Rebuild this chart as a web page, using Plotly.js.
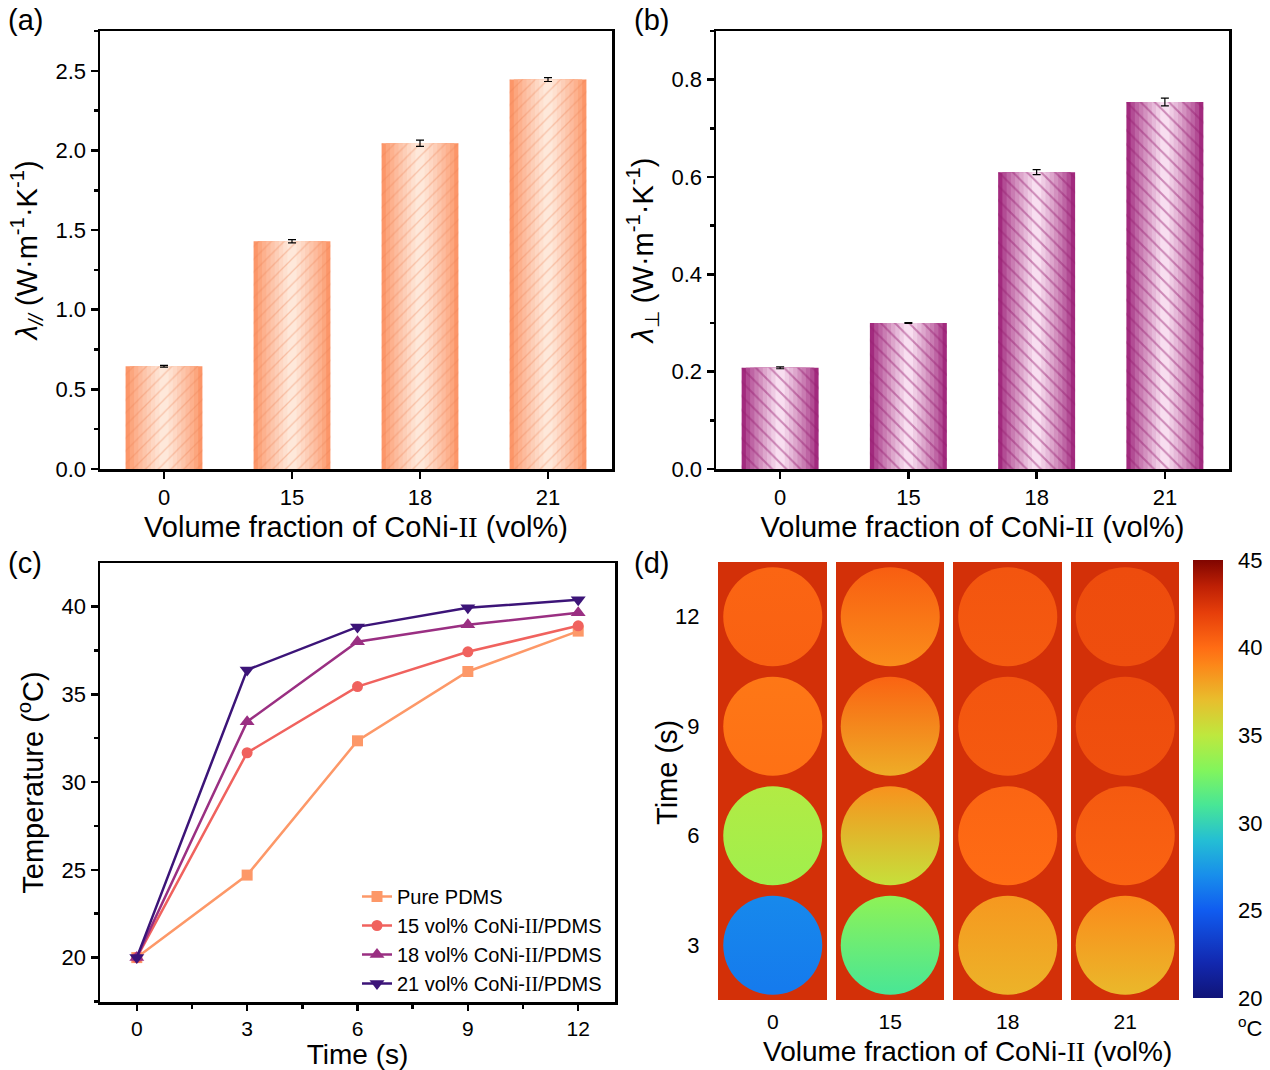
<!DOCTYPE html>
<html>
<head>
<meta charset="utf-8">
<script src="https://cdn.plot.ly/plotly-3.0.1.min.js"></script>
<style>html,body{margin:0;padding:0;background:#fff;}#plot{width:1270px;height:1070px;}</style>
</head>
<body>
<div id="plot"></div>
<script>
// ---------- DATA ----------
const categories = ['0', '15', '18', '21'];
const lambdaPar = [0.645, 1.43, 2.045, 2.445];
const lambdaParErr = [0.005, 0.01, 0.02, 0.012];
const lambdaPerp = [0.208, 0.300, 0.610, 0.754];
const lambdaPerpErr = [0.002, 0.001, 0.005, 0.008];

const timeS = [0, 3, 6, 9, 12];
const tempPure = [20, 24.7, 32.35, 36.3, 38.6];
const temp15 = [20, 31.67, 35.44, 37.42, 38.9];
const temp18 = [20, 33.44, 37.99, 38.96, 39.64];
const temp21 = [20, 36.39, 38.84, 39.93, 40.38];
const seriesNames = ['Pure PDMS', '15 vol% CoNi-II/PDMS', '18 vol% CoNi-II/PDMS', '21 vol% CoNi-II/PDMS'];

// thermal image panel: rows are time (s), columns are volume fractions
const imageTimes = ['3', '6', '9', '12'];
const imageBackground = [ // surrounding temperature
  [42.7, 42.7, 42.7, 42.7],
  [42.7, 42.7, 42.7, 42.7],
  [42.7, 42.7, 42.7, 42.7],
  [42.7, 42.7, 42.7, 42.7]
];
const sampleTopTemp = [
  [26.8, 33.4, 38.4, 38.9],
  [34.6, 38.6, 40.3, 40.8],
  [39.6, 40.4, 41.0, 41.4],
  [40.3, 40.6, 41.0, 41.4]
];
const sampleBottomTemp = [
  [26.2, 31.0, 37.4, 37.2],
  [34.0, 35.4, 40.0, 40.4],
  [39.8, 37.6, 40.8, 41.2],
  [40.5, 38.8, 40.8, 41.3]
];
const colorTicks = [20, 25, 30, 35, 40, 45];

// ---------- STYLE HELPERS ----------
const FONT = 'Liberation Sans, Arial, sans-serif';
const II = '<span style="font-family:Liberation Serif, Times New Roman, serif">II</span>';
const thermalScale = [
  [0.00, 'rgb(16,20,120)'],
  [0.08, 'rgb(18,40,175)'],
  [0.20, 'rgb(16,92,240)'],
  [0.28, 'rgb(24,142,235)'],
  [0.36, 'rgb(36,190,212)'],
  [0.44, 'rgb(72,230,150)'],
  [0.52, 'rgb(130,245,92)'],
  [0.60, 'rgb(190,232,62)'],
  [0.68, 'rgb(232,190,45)'],
  [0.76, 'rgb(252,135,25)'],
  [0.80, 'rgb(255,108,20)'],
  [0.88, 'rgb(230,62,10)'],
  [0.94, 'rgb(190,32,5)'],
  [1.00, 'rgb(128,5,0)']
];
const CMIN = 20, CMAX = 45;
function parseRGB(s) { return s.match(/\d+/g).map(Number); }
function scaleColor(T) {
  const t = Math.max(0, Math.min(1, (T - CMIN) / (CMAX - CMIN)));
  for (let i = 1; i < thermalScale.length; i++) {
    if (t <= thermalScale[i][0]) {
      const [t0, c0] = thermalScale[i - 1], [t1, c1] = thermalScale[i];
      const f = (t - t0) / (t1 - t0);
      const a = parseRGB(c0), b = parseRGB(c1);
      return 'rgb(' + a.map((v, k) => Math.round(v + (b[k] - v) * f)).join(',') + ')';
    }
  }
  return thermalScale[thermalScale.length - 1][1];
}
function mix(a, b, f) {
  return 'rgb(' + a.map((v, k) => Math.round(v + (b[k] - v) * f)).join(',') + ')';
}

const traces = [];
// gradient bars built from overlaid layers
function gradientBars(values, errs, xa, ya, edge, center, patShape, patColor, patSize, patSol) {
  const n = 9;
  for (let i = 0; i < n; i++) {
    const f = i / (n - 1);
    const w = 0.6 * (1 - 0.88 * f);
    traces.push({
      type: 'bar', x: categories, y: values, xaxis: xa, yaxis: ya,
      width: w, marker: {color: mix(edge, center, Math.pow(f, 0.8)), line: {width: 0}},
      showlegend: false, hoverinfo: 'skip'
    });
  }
  traces.push({
    type: 'bar', x: categories, y: values, xaxis: xa, yaxis: ya, width: 0.6,
    marker: {color: 'rgba(0,0,0,0)', line: {width: 0},
      pattern: {shape: patShape, fgcolor: patColor, bgcolor: 'rgba(0,0,0,0)', size: patSize, solidity: patSol, fillmode: 'overlay'}},
    error_y: {type: 'data', array: errs, visible: true, color: '#000', thickness: 1.2, width: 4},
    showlegend: false, hoverinfo: 'skip'
  });
}
gradientBars(lambdaPar, lambdaParErr, 'x', 'y', [252, 150, 105], [254, 232, 218], '/', 'rgba(236,130,85,0.75)', 9, 0.14);
gradientBars(lambdaPerp, lambdaPerpErr, 'x2', 'y2', [162, 42, 126], [248, 222, 240], '\\', 'rgba(150,30,112,0.9)', 10, 0.2);

// panel (c)
const lineColors = ['rgb(253,152,104)', 'rgb(240,98,94)', 'rgb(154,47,130)', 'rgb(60,20,120)'];
const symbols = ['square', 'circle', 'triangle-up', 'triangle-down'];
const temps = [tempPure, temp15, temp18, temp21];
temps.forEach((ys, i) => {
  traces.push({
    type: 'scatter', mode: 'lines+markers', x: timeS, y: ys, xaxis: 'x3', yaxis: 'y3',
    name: seriesNames[i].replace('II', II), legendgroup: 'g' + i,
    line: {color: lineColors[i], width: 2.5},
    marker: {symbol: symbols[i], size: i >= 2 ? 13 : 11, color: lineColors[i]},
    hoverinfo: 'skip'
  });
});

// panel (d)
traces.push({
  type: 'heatmap', x: categories, y: imageTimes, z: imageBackground, xaxis: 'x4', yaxis: 'y4',
  colorscale: thermalScale, zmin: CMIN, zmax: CMAX, xgap: 9, ygap: 0,
  showscale: true, hoverinfo: 'skip',
  colorbar: {
    x: 1193 / 1270, xanchor: 'left', y: 1 - 779 / 1070, yanchor: 'middle',
    len: 438, lenmode: 'pixels', thickness: 30, thicknessmode: 'pixels',
    outlinewidth: 0, xpad: 0, ypad: 0, tickvals: colorTicks,
    ticks: 'outside', ticklen: 11, tickcolor: 'rgba(0,0,0,0)',
    tickfont: {family: FONT, size: 22, color: '#000'}
  }
});
const sx = [], sy = [], sc = [], sg = [];
imageTimes.forEach((t, r) => {
  categories.forEach((c, k) => {
    sx.push(c); sy.push(t);
    sc.push(sampleTopTemp[r][k]);
    sg.push(scaleColor(sampleBottomTemp[r][k]));
  });
});
traces.push({
  type: 'scatter', mode: 'markers', x: sx, y: sy, xaxis: 'x4', yaxis: 'y4',
  marker: {size: 99, color: sc, colorscale: thermalScale, cmin: CMIN, cmax: CMAX, showscale: false,
    line: {width: 0}, gradient: {type: 'vertical', color: sg}},
  showlegend: false, hoverinfo: 'skip'
});

// ---------- LAYOUT ----------
const W = 1270, H = 1070;
const px = (a, b) => [a / W, b / W];
const py = (top, bottom) => [1 - bottom / H, 1 - top / H];
const tickFont = {family: FONT, size: 22, color: '#000'};
const titleFont = {family: FONT, size: 29, color: '#000'};
const lowTitleFont = {family: FONT, size: 28, color: '#000'};
function frameAxis(extra) {
  return Object.assign({
    showline: true, linewidth: 2.5, linecolor: '#000', mirror: true,
    ticks: 'outside', ticklen: 7, tickwidth: 2.5, tickcolor: '#000',
    tickfont: tickFont, showgrid: false, zeroline: false, fixedrange: true
  }, extra);
}
const xTitle = '<span>Volume fraction of CoNi-' + II + ' (vol%)</span>';

const layout = {
  width: W, height: H, margin: {l: 0, r: 0, t: 0, b: 0},
  paper_bgcolor: '#fff', plot_bgcolor: 'rgba(0,0,0,0)',
  barmode: 'overlay', showlegend: true,
  font: {family: FONT, color: '#000'},
  xaxis: frameAxis({domain: px(100, 612), anchor: 'y', type: 'category', range: [-0.5, 3.5],
    title: {text: xTitle, font: titleFont, standoff: 8}}),
  yaxis: frameAxis({domain: py(31, 469), anchor: 'x', range: [0, 2.75], dtick: 0.5, tickformat: '.1f',
    minor: {dtick: 0.25, ticks: 'outside', ticklen: 4, tickwidth: 2.5, tickcolor: '#000'},
    title: {text: '<i>λ</i><sub><i>//</i></sub> (W·m<sup>-1</sup>·K<sup>-1</sup>)', font: titleFont, standoff: 10}}),
  xaxis2: frameAxis({domain: px(716, 1229), anchor: 'y2', type: 'category', range: [-0.5, 3.5],
    title: {text: xTitle, font: titleFont, standoff: 8}}),
  yaxis2: frameAxis({domain: py(31, 469), anchor: 'x2', range: [0, 0.9], dtick: 0.2, tickformat: '.1f',
    minor: {dtick: 0.1, ticks: 'outside', ticklen: 4, tickwidth: 2.5, tickcolor: '#000'},
    title: {text: '<i>λ</i><sub>⊥</sub> (W·m<sup>-1</sup>·K<sup>-1</sup>)', font: titleFont, standoff: 10}}),
  xaxis3: frameAxis({domain: px(100, 615), anchor: 'y3', range: [-1, 13], dtick: 3, ticklen: 6,
    minor: {dtick: 1.5, ticks: 'outside', ticklen: 4, tickwidth: 2.5, tickcolor: '#000'},
    tickfont: {family: FONT, size: 21, color: '#000'},
    title: {text: 'Time (s)', font: lowTitleFont, standoff: 0}}),
  yaxis3: frameAxis({domain: py(563, 1002), anchor: 'x3', range: [17.47, 42.48], dtick: 5,
    minor: {dtick: 2.5, ticks: 'outside', ticklen: 4, tickwidth: 2.5, tickcolor: '#000'},
    title: {text: 'Temperature (<sup>o</sup>C)', font: titleFont, standoff: 10}}),
  xaxis4: {domain: px(714, 1184), anchor: 'y4', type: 'category', range: [-0.5, 3.5],
    showline: false, ticks: 'outside', ticklen: 3, tickcolor: 'rgba(0,0,0,0)',
    showgrid: false, zeroline: false, tickfont: {family: FONT, size: 21, color: '#000'}, fixedrange: true},
  yaxis4: {domain: py(562, 1000), anchor: 'x4', type: 'category', range: [-0.5, 3.5],
    showline: false, ticks: 'outside', ticklen: 9, tickcolor: 'rgba(0,0,0,0)',
    showgrid: false, zeroline: false, tickfont: tickFont, fixedrange: true},
  legend: {x: 357 / W, xanchor: 'left', y: 1 - 1003 / H, yanchor: 'bottom',
    bgcolor: 'rgba(0,0,0,0)', borderwidth: 0, font: {family: FONT, size: 20, color: '#000'},
    tracegroupgap: 3, traceorder: 'normal'},
  annotations: [
    {text: '(a)', x: 6 / W, y: 1 - 2 / H, xref: 'paper', yref: 'paper', xanchor: 'left', yanchor: 'top', showarrow: false, font: titleFont},
    {text: '(b)', x: 632 / W, y: 1 - 2 / H, xref: 'paper', yref: 'paper', xanchor: 'left', yanchor: 'top', showarrow: false, font: titleFont},
    {text: '(c)', x: 6 / W, y: 1 - 545 / H, xref: 'paper', yref: 'paper', xanchor: 'left', yanchor: 'top', showarrow: false, font: titleFont},
    {text: '(d)', x: 632 / W, y: 1 - 545 / H, xref: 'paper', yref: 'paper', xanchor: 'left', yanchor: 'top', showarrow: false, font: titleFont},
    {text: xTitle, x: 967 / W, y: 1 - 1051 / H, xref: 'paper', yref: 'paper', xanchor: 'center', yanchor: 'middle', showarrow: false, font: lowTitleFont},
    {text: 'Time (s)', x: 667 / W, y: 1 - 773 / H, xref: 'paper', yref: 'paper', xanchor: 'center', yanchor: 'middle', textangle: -90, showarrow: false, font: titleFont},
    {text: '<sup>o</sup>C', x: 1250 / W, y: 1 - 1027 / H, xref: 'paper', yref: 'paper', xanchor: 'center', yanchor: 'middle', showarrow: false, font: {family: FONT, size: 22, color: '#000'}}
  ]
};

Plotly.newPlot('plot', traces, layout, {displayModeBar: false, staticPlot: true});
</script>
</body>
</html>
